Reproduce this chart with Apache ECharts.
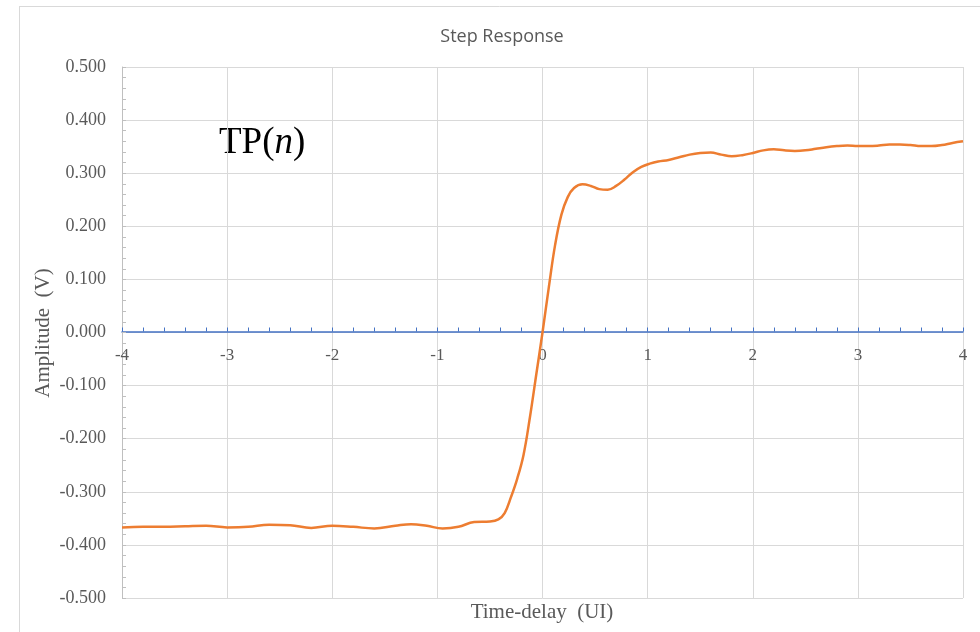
<!DOCTYPE html>
<html>
<head>
<meta charset="utf-8">
<script src="https://cdn.jsdelivr.net/npm/echarts@6/dist/echarts.min.js"></script>
<style>html,body{margin:0;padding:0;background:#fff;}#c{width:980px;height:632px;}</style>
</head>
<body>
<div id="c"></div>
<script>
var timeDelay = [-4.0,-3.8,-3.6,-3.4,-3.2,-3.0,-2.8,-2.6,-2.4,-2.2,-2.0,-1.8,-1.6,-1.4,-1.25,-1.1,-0.95,-0.8,-0.65,-0.5,-0.42,-0.36,-0.3,-0.24,-0.18,-0.12,-0.06,0,0.06,0.12,0.18,0.24,0.3,0.38,0.46,0.54,0.62,0.7,0.78,0.86,0.94,1.02,1.1,1.2,1.3,1.4,1.5,1.6,1.7,1.8,1.9,2.0,2.1,2.2,2.3,2.4,2.5,2.6,2.7,2.8,2.9,3.0,3.1,3.2,3.3,3.4,3.5,3.6,3.7,3.8,3.9,4.0];
var amplitude = [-0.367,-0.366,-0.366,-0.365,-0.364,-0.367,-0.366,-0.362,-0.363,-0.368,-0.364,-0.366,-0.369,-0.364,-0.361,-0.364,-0.369,-0.366,-0.357,-0.356,-0.352,-0.340,-0.310,-0.275,-0.230,-0.160,-0.080,0.000,0.085,0.165,0.222,0.255,0.272,0.279,0.276,0.270,0.269,0.276,0.288,0.302,0.312,0.318,0.322,0.325,0.330,0.335,0.338,0.339,0.335,0.332,0.334,0.338,0.343,0.345,0.343,0.342,0.343,0.346,0.349,0.351,0.352,0.351,0.351,0.352,0.354,0.354,0.353,0.351,0.351,0.353,0.357,0.360];
var titleText = 'Step Response';
var xName = 'Time-delay  (UI)';
var yName = 'Amplitude  (V)';

var pts = timeDelay.map(function(x,i){return [x, amplitude[i]];});
var serif = '"Liberation Serif","Times New Roman",serif';
var chart = echarts.init(document.getElementById('c'), null, {renderer:'canvas'});
chart.setOption({
  animation:false,
  backgroundColor:'#fff',
  title:{text:titleText,left:497,top:23,textAlign:'center',textStyle:{fontFamily:'"Open Sans","Noto Sans",sans-serif',fontSize:18,fontWeight:'normal',color:'#595959'}},
  grid:{left:122,right:17,top:67,bottom:34,containLabel:false},
  xAxis:{type:'value',min:-4,max:4,interval:1,position:'bottom',offset:-266.5,
    axisLine:{show:true,onZero:false,lineStyle:{color:'#4472C4',width:1.5}},
    axisTick:{show:true,inside:true,length:4,lineStyle:{color:'#4472C4',width:1}},
    minorTick:{show:true,splitNumber:5,length:4,lineStyle:{color:'#4472C4',width:1}},
    axisLabel:{fontFamily:serif,fontSize:17,color:'#595959',margin:16},
    splitLine:{show:true,lineStyle:{color:'#D9D9D9',width:1}}
  },
  yAxis:{type:'value',min:-0.5,max:0.5,interval:0.1,
    axisLine:{show:true,onZero:false,lineStyle:{color:'#BFBFBF',width:1}},
    axisTick:{show:true,inside:true,length:4,lineStyle:{color:'#BFBFBF'}},
    minorTick:{show:true,splitNumber:5,length:4,lineStyle:{color:'#BFBFBF'}},
    axisLabel:{fontFamily:serif,fontSize:18,color:'#595959',margin:16,formatter:function(v){return (Math.abs(v)<1e-9?0:v).toFixed(3);}},
    splitLine:{show:true,lineStyle:{color:'#D9D9D9',width:1}}
  },
  series:[{type:'line',data:pts,smooth:0.4,showSymbol:false,symbol:'none',
    lineStyle:{color:'#ED7D31',width:2.5},z:5}],
  graphic:[
    {type:'line',shape:{x1:19,y1:6.5,x2:980,y2:6.5},style:{stroke:'#D9D9D9',lineWidth:1},silent:true},
    {type:'line',shape:{x1:19.5,y1:6,x2:19.5,y2:632},style:{stroke:'#D9D9D9',lineWidth:1},silent:true},
    {type:'text',x:542,y:612,style:{text:xName,font:'21px '+serif,fill:'#595959',align:'center',verticalAlign:'middle'},silent:true},
    {type:'text',x:43,y:333,rotation:Math.PI/2,style:{text:yName,font:'21px '+serif,fill:'#595959',align:'center',verticalAlign:'middle'},silent:true},
    {type:'text',x:219,y:143,style:{rich:{a:{fontFamily:serif,fontSize:37,fill:'#000'},b:{fontFamily:serif,fontSize:37,fontStyle:'italic',fill:'#000'}},text:'{a|TP(}{b|n}{a|)}',verticalAlign:'middle'},silent:true}
  ]
});
</script>
</body>
</html>
